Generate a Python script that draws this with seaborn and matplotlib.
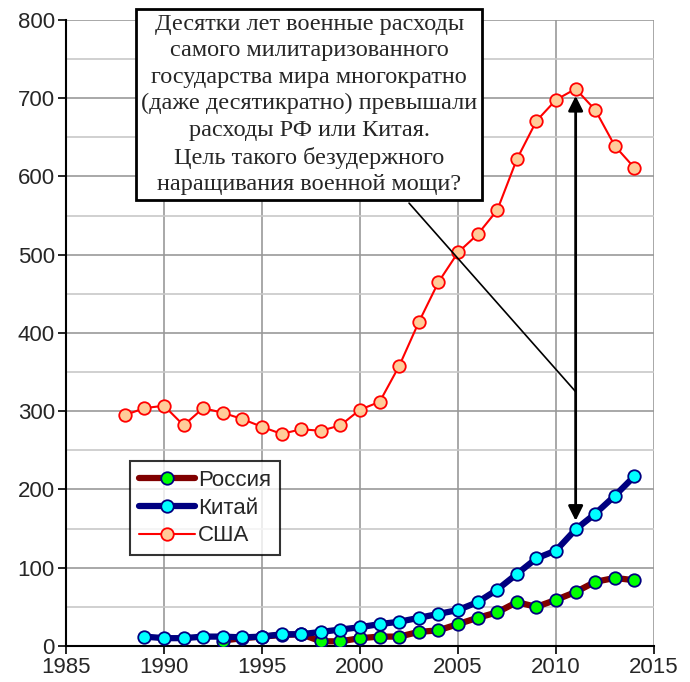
import numpy as np
import pandas as pd
import matplotlib
matplotlib.use("Agg")
import matplotlib.pyplot as plt
import seaborn as sns
from matplotlib.ticker import MultipleLocator

# Military spending, billions USD
years_usa = list(range(1988, 2015))
usa = [295, 304, 307, 282, 304, 298, 290, 280, 271, 277, 275, 282, 302, 312,
       358, 414, 465, 503, 526, 557, 622, 671, 698, 712, 685, 639, 611]

years_china = list(range(1989, 2015))
china = [12, 10, 10, 12, 12, 11, 12, 15, 15, 18, 21, 24, 28, 31, 36, 41, 46,
         56, 72, 92, 112, 122, 149, 169, 192, 217]

years_russia = list(range(1993, 2015))
russia = [7, 10, 12, 14, 15, 6, 6, 10, 12, 12, 18, 20, 28, 36, 43, 56, 50,
          59, 69, 82, 87, 84]

note = ("Десятки лет военные расходы\n"
        "самого милитаризованного\n"
        "государства мира многократно\n"
        "(даже десятикратно) превышали\n"
        "расходы РФ или Китая.\n"
        "Цель такого безудержного\n"
        "наращивания военной мощи?")

sns.set_style("white")
plt.rcParams['font.family'] = ['Liberation Sans', 'DejaVu Sans']

fig = plt.figure(figsize=(6.9, 6.82), dpi=100)
ax = fig.add_axes([0.0957, 0.0528, 0.8522, 0.9179])

df_r = pd.DataFrame({"year": years_russia, "value": russia})
df_c = pd.DataFrame({"year": years_china, "value": china})
df_u = pd.DataFrame({"year": years_usa, "value": usa})

sns.lineplot(data=df_r, x="year", y="value", ax=ax, color="#800000", lw=4.5,
             marker="o", markersize=9, markerfacecolor="#00ff00",
             markeredgecolor="#000080", markeredgewidth=1.3, label="Россия", zorder=3)
sns.lineplot(data=df_c, x="year", y="value", ax=ax, color="#000080", lw=4.5,
             marker="o", markersize=9, markerfacecolor="#00ffff",
             markeredgecolor="#000080", markeredgewidth=1.3, label="Китай", zorder=4)
sns.lineplot(data=df_u, x="year", y="value", ax=ax, color="#ff0000", lw=1.5,
             marker="o", markersize=9, markerfacecolor="#ffcc99",
             markeredgecolor="#ff0000", markeredgewidth=1.3, label="США", zorder=5)

ax.set_xlim(1985, 2015)
ax.set_ylim(0, 800)
ax.xaxis.set_major_locator(MultipleLocator(5))
ax.yaxis.set_major_locator(MultipleLocator(100))
ax.yaxis.set_minor_locator(MultipleLocator(50))
ax.grid(which="major", color="#999999", lw=1.2)
ax.grid(which="minor", axis="y", color="#c8c8c8", lw=1.2)
ax.set_axisbelow(True)
ax.set_xlabel("")
ax.set_ylabel("")

for s in ["top", "right"]:
    ax.spines[s].set_visible(False)
for s in ["left", "bottom"]:
    ax.spines[s].set_color("black")
    ax.spines[s].set_linewidth(1.5)
ax.tick_params(which="major", direction="out", length=6, width=1.2,
               color="black", labelsize=16, left=True, bottom=True, pad=2)
ax.tick_params(which="minor", left=False)

leg = ax.legend(loc="lower left", bbox_to_anchor=(0.109, 0.145), borderaxespad=0,
                fontsize=16, frameon=True, fancybox=False, handlelength=2.5,
                handletextpad=0.15, labelspacing=0.3, borderpad=0.4)
leg.get_frame().set_edgecolor("black")
leg.get_frame().set_linewidth(1.5)
leg.set_zorder(10)

# callout line and double arrow
ax.plot([2002.5, 2011], [566, 325], color="black", lw=1.2, zorder=6)
ax.annotate("", xy=(2011, 703), xytext=(2011, 160),
            arrowprops=dict(arrowstyle="<|-|>", lw=2, color="black",
                            mutation_scale=22, shrinkA=0, shrinkB=0), zorder=6)

ax.text(1997.4, 692, note, ha="center", va="center", fontsize=17.5,
        family=["Liberation Serif", "DejaVu Serif"], linespacing=1.34, zorder=11,
        bbox=dict(boxstyle="square,pad=0.2", fc="white", ec="black", lw=2),
        clip_on=False)

fig.savefig("out.png", dpi=100)
